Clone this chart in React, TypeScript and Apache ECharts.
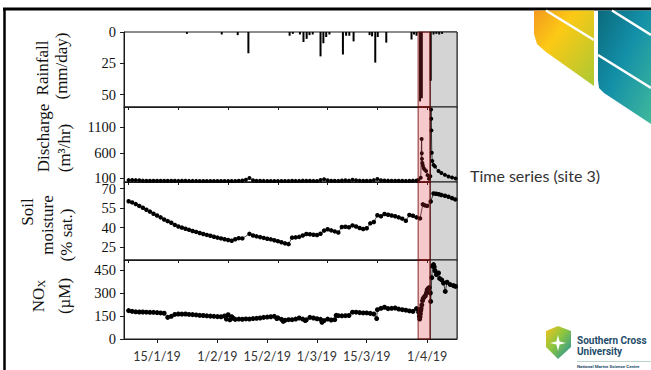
import React, { useEffect, useRef } from 'react';
import * as echarts from 'echarts';

// ---- time axis (day of year, 2019) ----
const X_MIN = 5.7;
const X_MAX = 99.4;
const dateTickDays = [15, 32, 46, 60, 74, 91];
const dateTickLabels = ['15/1/19', '1/2/19', '15/2/19', '1/3/19', '15/3/19', '1/4/19'];
const panelTickDays = [7, 21, 35, 49, 63, 77, 91];

// shaded event windows (day of year)
const eventWindow: [number, number] = [88.46, 91.84];
const postEventWindow: [number, number] = [91.84, 99.4];

// ---- rainfall (mm/day) ----
const rainDays = [23.4, 33.2, 37.7, 40.7, 52.3, 53.2, 55.2, 56.2, 57.1, 57.9, 58.8, 61.0, 61.8, 62.6, 63.5, 67.3, 68.2, 69.1, 70.3, 74.8, 75.5, 76.4, 77.1, 79.5, 86.6, 87.3, 88.0, 89.0, 89.5, 92.0, 92.8, 93.6, 94.4, 95.2];
const rainMm = [1.5, 2, 2.5, 17, 3, 1.5, 2, 8, 5.5, 2.5, 2, 19.5, 9, 4, 2, 18, 3, 3, 7.5, 2.5, 3.5, 24.5, 4, 8.5, 6, 2, 3, 55.5, 53, 39, 2, 1.5, 2, 1.5];

// ---- discharge (m3/hr) ----
const dischargeDays = [7, 8, 9, 10, 11, 12, 13, 14, 15, 16, 17, 18, 19, 20, 21, 22, 23, 24, 25, 26, 27, 28, 29, 30, 31, 32, 33, 34, 35, 36, 37, 38, 39, 40, 41, 42, 43, 44, 45, 46, 47, 48, 49, 50, 51, 52, 53, 54, 55, 56, 57, 58, 59, 60, 61, 62, 63, 64, 65, 66, 67, 68, 69, 70, 71, 72, 73, 74, 75, 76, 77, 78, 79, 80, 81, 82, 83, 84, 85, 86, 87, 88, 88.5, 89.2, 89.45, 89.5, 89.55, 89.65, 89.8, 90.0, 90.3, 90.7, 91.1, 91.5, 91.9, 92.1, 92.15, 92.2, 92.3, 92.45, 92.8, 93.2, 94.2, 95.0, 96.0, 97.0, 98.0, 99.0];
const dischargeValues = [62, 63, 62, 60, 52, 50, 50, 49, 49, 48, 48, 49, 48, 48, 47, 48, 48, 47, 47, 47, 46, 46, 46, 46, 45, 45, 45, 45, 46, 45, 45, 48, 55, 70, 105, 60, 50, 48, 47, 46, 46, 45, 45, 44, 44, 45, 48, 47, 47, 52, 50, 48, 47, 46, 65, 78, 58, 50, 48, 47, 55, 58, 52, 70, 58, 52, 50, 49, 50, 62, 85, 60, 55, 52, 50, 49, 48, 48, 47, 50, 52, 55, 60, 110, 870, 590, 480, 400, 350, 300, 270, 240, 160, 90, 140, 1450, 1270, 1040, 600, 440, 360, 330, 240, 200, 165, 135, 115, 95];

// ---- soil moisture (% sat.) ----
const soilDays = [7, 8, 9, 10, 11, 12, 13, 14, 15, 16, 17, 18, 19, 20, 21, 22, 23, 24, 25, 26, 27, 28, 29, 30, 31, 32, 33, 34, 35, 36, 37, 38, 39, 41, 42, 43, 44, 45, 46, 47, 48, 49, 50, 51, 52, 53, 54, 55, 56, 57, 58, 59, 60, 61, 62, 63, 64, 65, 66, 67, 68, 69, 70, 71, 72, 73, 74, 75, 76, 77, 78, 79, 80, 81, 82, 83, 84, 85, 86, 87, 88, 89, 89.8, 90.4, 91.0, 92.0, 92.8, 93.5, 94.3, 95.0, 96.0, 97.0, 98.0, 98.9];
const soilValues = [60.2, 59.3, 58.0, 56.6, 55.2, 53.6, 52.2, 50.6, 49.2, 47.8, 46.2, 44.9, 43.6, 42.0, 40.8, 39.9, 39.0, 38.2, 37.3, 36.6, 35.8, 35.0, 34.3, 33.6, 32.9, 32.2, 31.6, 31.0, 30.4, 29.8, 31.0, 31.8, 31.6, 35.1, 33.9, 33.2, 32.6, 32.0, 31.4, 30.9, 30.2, 29.5, 28.6, 27.8, 27.2, 32.2, 32.4, 32.8, 33.8, 35.0, 34.8, 34.4, 34.2, 35.2, 37.6, 38.6, 37.8, 37.0, 36.2, 40.4, 40.6, 40.2, 41.6, 40.8, 39.6, 38.8, 39.4, 43.2, 44.2, 49.4, 48.6, 50.4, 49.8, 49.2, 48.6, 47.8, 46.8, 45.2, 49.6, 49.0, 47.8, 47.0, 57.8, 57.0, 56.6, 60.0, 66.2, 66.0, 65.6, 65.0, 64.4, 63.6, 62.6, 61.6];

// ---- NOx (uM) ----
const noxDays = [7, 8, 9, 10, 11, 12, 13, 14, 15, 16, 17, 18, 19, 20, 21, 22, 23, 24, 25, 26, 27, 28, 29, 30, 31, 32, 33, 34, 34.5, 35, 35.5, 36, 36.5, 37, 38, 39, 40, 41, 42, 43, 44, 45, 46, 47, 48, 48.7, 49, 50, 50.5, 51, 52, 53, 54, 55, 56, 56.7, 57, 58, 59, 60, 61, 61.4, 62, 63, 64, 65, 65.4, 66, 67, 68, 69, 70, 71, 72, 73, 74, 75, 76, 76.8, 77, 78, 79, 80, 81, 82, 83, 84, 85, 86, 87, 88, 88.6, 88.8, 88.9, 89.0, 89.1, 89.2, 89.3, 89.5, 89.7, 89.9, 90.2, 90.5, 90.8, 91.0, 91.3, 91.6, 91.9, 92.0, 92.3, 92.5, 92.8, 93.0, 93.2, 93.6, 94.2, 94.5, 95.1, 95.6, 96.1, 96.6, 97.5, 98.4, 99.0];
const noxValues = [185, 180, 177, 176, 176, 175, 174, 174, 172, 170, 168, 141, 148, 160, 163, 162, 163, 160, 159, 157, 154, 153, 151, 149, 148, 146, 145, 150, 130, 158, 125, 145, 135, 128, 130, 129, 131, 130, 133, 135, 137, 141, 143, 145, 148, 133, 138, 128, 115, 122, 126, 126, 130, 137, 130, 120, 125, 141, 137, 132, 128, 109, 120, 130, 124, 126, 154, 152, 151, 152, 153, 175, 175, 172, 170, 170, 167, 163, 133, 191, 200, 207, 198, 200, 202, 195, 191, 188, 183, 180, 198, 175, 150, 130, 145, 165, 185, 200, 222, 250, 265, 275, 282, 300, 320, 330, 335, 300, 245, 400, 475, 485, 470, 445, 420, 430, 395, 385, 365, 310, 370, 355, 348, 343];

const SERIF = '"Liberation Serif", "Times New Roman", Times, serif';
const SANS = 'Lato, "Open Sans", sans-serif';
const INK = '#1a1a1a';

const pairs = (xs: number[], ys: number[]) => xs.map((x, i) => [x, ys[i]]);

const grids = [
  { left: 124, top: 32, width: 333, height: 75 },
  { left: 124, top: 107, width: 333, height: 75 },
  { left: 124, top: 182, width: 333, height: 78 },
  { left: 124, top: 260, width: 333, height: 79 },
].map((g) => ({ ...g, show: true, borderColor: INK, borderWidth: 1, backgroundColor: 'transparent' }));

const xAxisFor = (gridIndex: number, labelled: boolean) => ({
  type: 'value',
  gridIndex,
  min: X_MIN,
  max: X_MAX,
  axisLine: { show: true, onZero: false, lineStyle: { color: INK, width: 1 } },
  axisTick: {
    show: true,
    inside: false,
    length: labelled ? 4 : 3,
    customValues: labelled ? dateTickDays : panelTickDays,
    lineStyle: { color: INK },
  },
  axisLabel: labelled
    ? {
        show: true,
        customValues: dateTickDays,
        formatter: (v: number) => {
          const i = dateTickDays.findIndex((d) => Math.abs(d - v) < 0.01);
          return i >= 0 ? dateTickLabels[i] : '';
        },
        margin: 11,
        fontFamily: SANS,
        fontSize: 12.5,
        color: '#333',
      }
    : { show: false },
  splitLine: { show: false },
});

const yAxisFor = (gridIndex: number, min: number, max: number, ticks: number[], inverse = false) => ({
  type: 'value',
  gridIndex,
  min,
  max,
  inverse,
  axisLine: { show: true, lineStyle: { color: INK, width: 1 } },
  axisTick: { show: true, length: 4, customValues: ticks, lineStyle: { color: INK } },
  axisLabel: {
    customValues: ticks,
    formatter: (v: number) => String(Math.round(v)),
    margin: 8,
    fontFamily: SERIF,
    fontSize: 14.5,
    color: '#111',
  },
  splitLine: { show: false },
});

// shaded window spanning the full height of a panel
const windowSeries = (gridIndex: number, win: [number, number], fill: string, stroke: string, z: number) => ({
  type: 'custom',
  xAxisIndex: gridIndex,
  yAxisIndex: gridIndex,
  z,
  silent: true,
  data: [win],
  renderItem: (params: any, api: any) => {
    const cs = params.coordSys;
    const x0 = api.coord([api.value(0), 0])[0];
    const x1 = api.coord([api.value(1), 0])[0];
    return {
      type: 'rect',
      shape: { x: x0, y: cs.y, width: x1 - x0, height: cs.height },
      style: { fill, stroke, lineWidth: 1 },
    };
  },
});

const dotLine = (gridIndex: number, data: number[][], size: number) => ({
  type: 'line',
  xAxisIndex: gridIndex,
  yAxisIndex: gridIndex,
  data,
  z: 2,
  symbol: 'circle',
  symbolSize: size,
  showAllSymbol: true,
  itemStyle: { color: '#000' },
  lineStyle: { color: '#000', width: 0.7 },
});

const axisTitle = (text: string, x: number, y: number, rich?: any) => ({
  type: 'text',
  x,
  y,
  rotation: Math.PI / 2,
  style: { text, fontFamily: SERIF, fontSize: 17, fill: '#111', align: 'center', verticalAlign: 'middle', rich },
});

const grad = (x0: number, y0: number, x1: number, y1: number, stops: [number, string][]) =>
  new echarts.graphic.LinearGradient(x0, y0, x1, y1, stops.map(([offset, color]) => ({ offset, color })));

const graphics: any[] = [
  // slide frame
  { type: 'line', shape: { x1: 3, y1: 9, x2: 651, y2: 9 }, style: { stroke: '#000', lineWidth: 3 } },
  { type: 'line', shape: { x1: 4.5, y1: 8, x2: 4.5, y2: 370 }, style: { stroke: '#000', lineWidth: 2.5 } },

  // axis titles
  axisTitle('Rainfall', 42, 68),
  axisTitle('(mm/day)', 61, 66),
  axisTitle('Discharge', 43, 138),
  axisTitle('(m³/hr)', 64, 148),
  axisTitle('Soil', 27, 212),
  axisTitle('moisture', 47, 225),
  axisTitle('(% sat.)', 66, 235),
  axisTitle('NO{sub|X}', 38, 296, { sub: { fontFamily: SERIF, fontSize: 11, verticalAlign: 'bottom', padding: [6, 0, 0, 0] } }),
  axisTitle('(µM)', 64, 296),

  // caption
  {
    type: 'text',
    x: 470,
    y: 175,
    style: { text: 'Time series (site 3)', fontFamily: SANS, fontSize: 16, fill: '#333', align: 'left', verticalAlign: 'middle' },
  },

  // corner emblem: warm leaf
  {
    type: 'polygon',
    shape: { points: [[534, 10.5], [594, 10.5], [594, 86], [546, 52], [537, 44], [534, 34]] },
    style: { fill: grad(0, 0, 1, 1, [[0, '#f39a1e'], [0.35, '#fcc915'], [1, '#a9c934']]) },
  },
  // corner emblem: cool leaf
  {
    type: 'polygon',
    shape: { points: [[598, 10.5], [651, 10.5], [651, 124], [604, 93], [599, 88], [598, 80]] },
    style: { fill: grad(0, 0, 1, 1, [[0, '#0b6a7c'], [0.45, '#138fa8'], [1, '#40b99b']]) },
  },
  { type: 'line', shape: { x1: 546, y1: 10.5, x2: 594, y2: 40 }, style: { stroke: '#fff', lineWidth: 2.5 } },
  { type: 'line', shape: { x1: 612, y1: 10.5, x2: 651, y2: 35 }, style: { stroke: '#fff', lineWidth: 2.5 } },
  { type: 'line', shape: { x1: 598, y1: 55, x2: 651, y2: 88 }, style: { stroke: '#fff', lineWidth: 2.5 } },

  // university badge
  {
    type: 'polygon',
    shape: { points: [[546, 331], [558, 326], [571, 331], [571, 347], [558, 359], [546, 347]] },
    style: { fill: grad(0, 0, 1, 1, [[0, '#f6c21c'], [0.45, '#8cc63f'], [1, '#1b8fa3']]) },
  },
  {
    type: 'polygon',
    shape: { points: [[558, 335], [559.6, 341.4], [566, 343], [559.6, 344.6], [558, 351], [556.4, 344.6], [550, 343], [556.4, 341.4]] },
    style: { fill: '#fff' },
  },
  {
    type: 'text',
    x: 577,
    y: 340.5,
    style: { text: 'Southern Cross', fontFamily: 'Roboto, sans-serif', fontWeight: 'bold', fontSize: 10, fill: '#1f4d6b', verticalAlign: 'middle' },
  },
  {
    type: 'text',
    x: 577,
    y: 351,
    style: { text: 'University', fontFamily: 'Roboto, sans-serif', fontWeight: 'bold', fontSize: 10, fill: '#1f4d6b', verticalAlign: 'middle' },
  },
  { type: 'line', shape: { x1: 577, y1: 361.5, x2: 651, y2: 361.5 }, style: { stroke: '#8fb5a8', lineWidth: 0.6 } },
  {
    type: 'text',
    x: 577,
    y: 366.5,
    style: { text: 'National Marine Science Centre', fontFamily: 'Roboto, sans-serif', fontWeight: 'bold', fontSize: 4.4, fill: '#1f4d6b', verticalAlign: 'middle' },
  },
];

const GRAY_FILL = '#d4d4d4';
const PINK_FILL = 'rgba(220, 40, 50, 0.25)';
const PINK_EDGE = 'rgba(110, 10, 10, 0.85)';

const option: any = {
  animation: false,
  backgroundColor: '#fff',
  grid: grids,
  xAxis: [xAxisFor(0, false), xAxisFor(1, false), xAxisFor(2, false), xAxisFor(3, true)],
  yAxis: [
    yAxisFor(0, 0, 60, [0, 25, 50], true),
    yAxisFor(1, 25, 1500, [100, 600, 1100]),
    yAxisFor(2, 15, 75, [25, 40, 55, 70]),
    yAxisFor(3, 0, 515, [0, 150, 300, 450]),
  ],
  series: [
    ...[0, 1, 2, 3].map((g) => windowSeries(g, postEventWindow, GRAY_FILL, INK, 1)),
    {
      type: 'bar',
      xAxisIndex: 0,
      yAxisIndex: 0,
      z: 2,
      barWidth: 2,
      data: pairs(rainDays, rainMm),
      itemStyle: { color: '#000' },
    },
    dotLine(1, pairs(dischargeDays, dischargeValues), 4),
    dotLine(2, pairs(soilDays, soilValues), 4.5),
    dotLine(3, pairs(noxDays, noxValues), 5),
    ...[0, 1, 2, 3].map((g) => windowSeries(g, eventWindow, PINK_FILL, PINK_EDGE, 5)),
  ],
  graphic: graphics,
};

export default function App() {
  const ref = useRef<HTMLDivElement>(null);
  useEffect(() => {
    const chart = echarts.init(ref.current!, null, { renderer: 'svg' });
    chart.setOption(option);
    return () => chart.dispose();
  }, []);
  return (
    <div
      ref={ref}
      style={{ position: 'fixed', left: 0, top: 0, width: 651, height: 370, background: '#fff' }}
    />
  );
}
